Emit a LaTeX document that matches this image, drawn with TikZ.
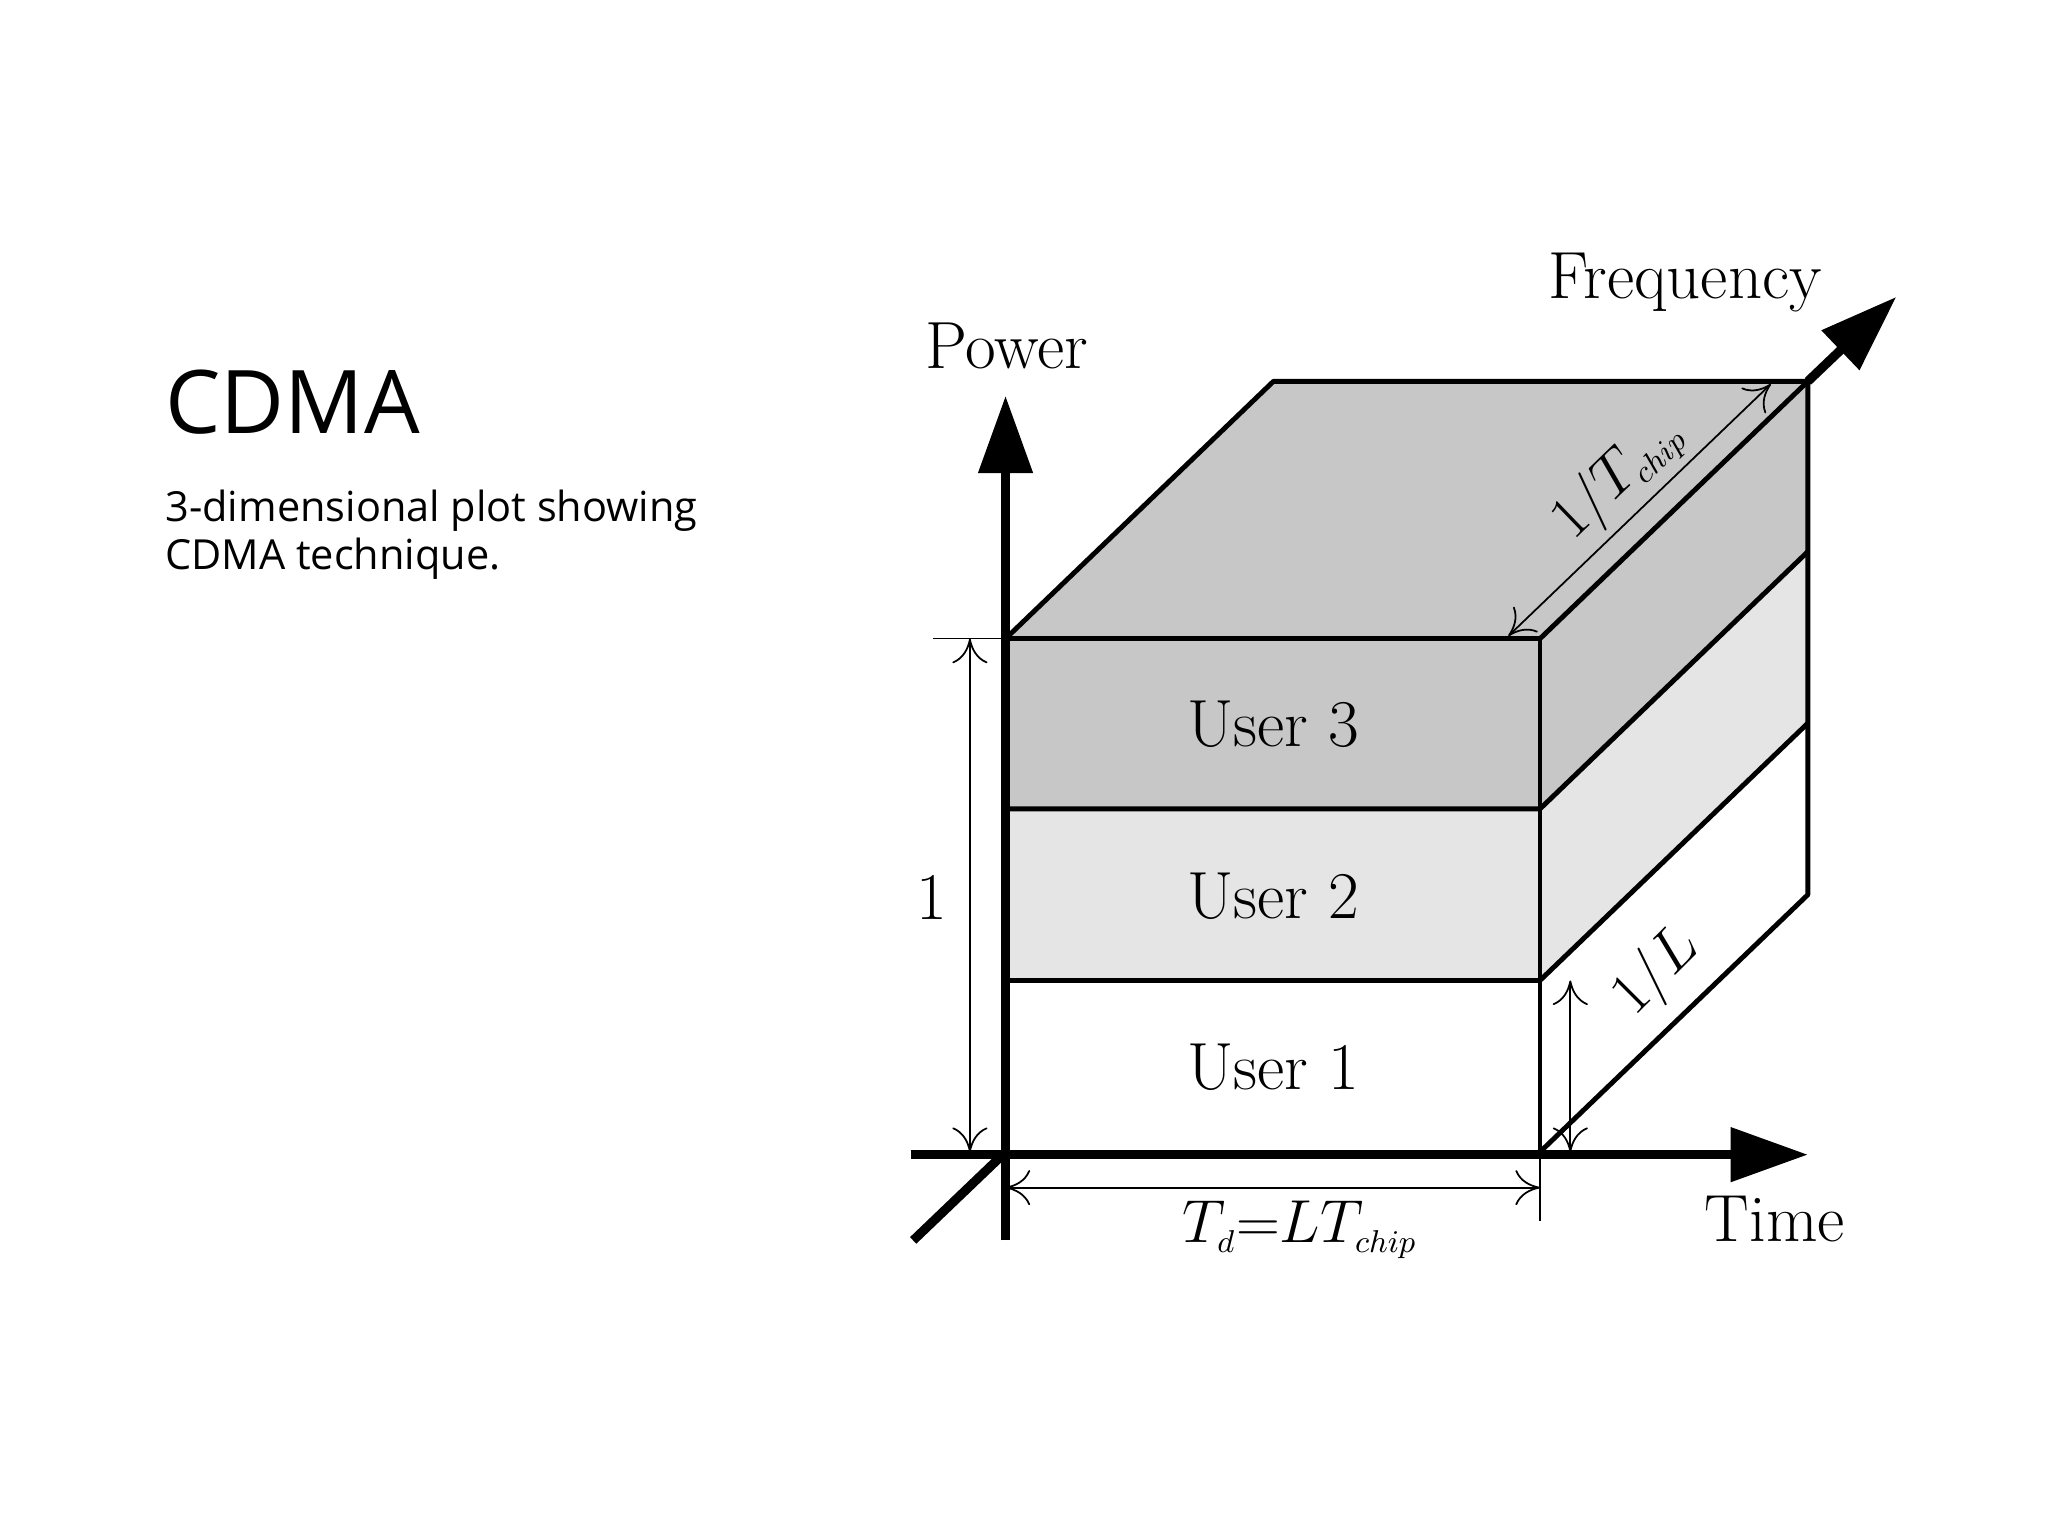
\documentclass[tikz,border=0pt]{standalone}
\usepackage{fontspec}
\newfontfamily\uifont{Open Sans}
\usetikzlibrary{arrows.meta}
\begin{document}
\begin{tikzpicture}[x=0.013196cm,y=-0.013196cm,
  edge/.style={line width=1.4pt,line join=round},
  axis/.style={line width=2.6pt,-{Triangle[length=22pt,width=15pt]}},
  dim/.style={line width=0.5pt,{To[length=7pt,width=10pt]}-{To[length=7pt,width=10pt]}},
  lab/.style={font=\fontsize{19}{22}\selectfont},
  l3/.style={fill=black!22},l2/.style={fill=black!10}]
\useasboundingbox (0,0) rectangle (1552,1164);
\fill[white] (0,0) rectangle (1552,1164);
% title
\node[anchor=west,font=\uifont\fontsize{25}{30}\selectfont] (title) at (116,305) {CDMA};
\node[anchor=north west,align=left,font=\uifont\fontsize{11.8}{13.5}\selectfont] (sub) at (116,362) {3-dimensional plot showing\\CDMA technique.};
% corners
\coordinate (A) at (762,873); \coordinate (B) at (1167,873);
\coordinate (C) at (1167,484); \coordinate (D) at (762,484);
\coordinate (E) at (965,289); \coordinate (F) at (1370,289);
\coordinate (G) at (1370,678);
\coordinate (m1) at (762,743); \coordinate (n1) at (1167,743);
\coordinate (m2) at (762,613); \coordinate (n2) at (1167,613);
\coordinate (r1) at (1370,548); \coordinate (r2) at (1370,418);
% faces
\fill[l3] (D)--(E)--(F)--(C)--cycle;
\fill[l3] (m2) rectangle (C);
\fill[l2] (m1) rectangle (n2);
\fill[l3] (n2)--(r2)--(F)--(C)--cycle;
\fill[l2] (n1)--(r1)--(r2)--(n2)--cycle;
% frequency axis
\coordinate (f0) at (692,940);
\coordinate (f1) at (1437,225);
\draw[line width=2.6pt] (f0)--(A);
\draw[axis] (F)--(f1);
% edges
\draw[edge] (A)--(B)--(C)--(D)--cycle;
\draw[edge] (D)--(E)--(F)--(C);
\draw[edge] (F)--(G)--(B);
\draw[edge] (m1)--(n1)--(r1);
\draw[edge] (m2)--(n2)--(r2);
% axes
\coordinate (p0) at (762,940); \coordinate (p1) at (762,300);
\coordinate (t0) at (690,875); \coordinate (t1) at (1370,875);
\draw[axis] (p0)--(p1);
\draw[axis] (t0)--(t1);
\node[lab] (power) at (763,262) {Power};
\node[lab] (freq) at (1277,214) {Frequency};
\node[lab] (time) at (1345,924) {Time};
\node[lab] (u3) at (965,549) {User 3};
\node[lab] (u2) at (965,679) {User 2};
\node[lab] (u1) at (965,809) {User 1};
% dimensions
\draw[line width=0.4pt] (707,484)--(D);
\draw[dim] (735,484)--(735,873);
\node[lab] (one) at (706,680) {1};
\draw[line width=0.4pt] (1167,873)--(1167,925);
\draw[dim] (762,900)--(1167,900);
\node[lab] (td) at (985,932) {$T_{\scriptscriptstyle d}{=}LT_{\scriptscriptstyle chip}$};
\draw[dim] (1190,743)--(1190,873);
\node[lab,rotate=45] (invL) at (1256,737) {$1/L$};
\draw[dim] (1143,482)--(1342,291);
\node[lab,rotate=44,inner sep=0pt] (invT) at (1226,362) {$1/T_{\scriptscriptstyle chip}$};
\end{tikzpicture}
\end{document}
